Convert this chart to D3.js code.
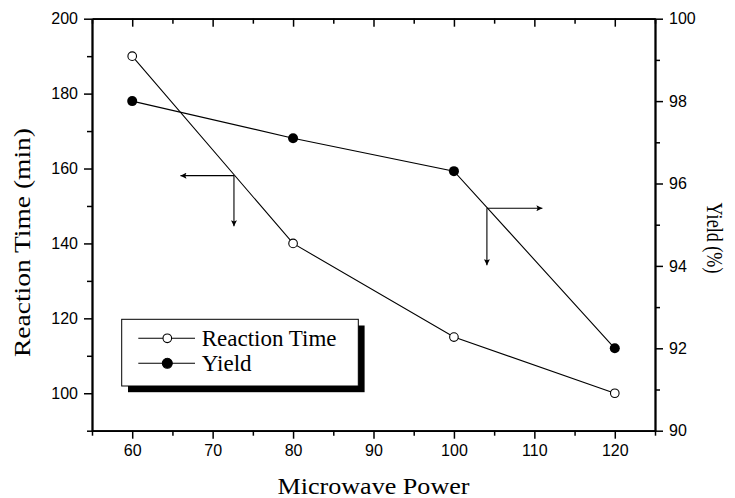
<!DOCTYPE html>
<html>
<head>
<meta charset="utf-8">
<script src="https://cdn.jsdelivr.net/npm/d3@7"></script>
<style>
  body { margin: 0; background: #fff; }
  svg { display: block; }
  .tick text { font-family: "Liberation Sans", Arial, sans-serif; font-size: 16px; fill: #000; }
  .title { font-family: "Liberation Serif", "Times New Roman", serif; font-size: 23px; fill: #000; }
</style>
</head>
<body>
<svg width="735" height="498"></svg>
<script>
// data
var power = [60, 80, 100, 120];
var reactionTime = [190, 140, 115, 100];
var yieldPct = [98.0, 97.1, 96.3, 92.0];

var xTicks = [60, 70, 80, 90, 100, 110, 120];
var xMinor = [55, 65, 75, 85, 95, 105, 115, 125];
var leftTicks = [100, 120, 140, 160, 180, 200];
var leftMinor = [90, 110, 130, 150, 170, 190];
var rightTicks = [90, 92, 94, 96, 98, 100];
var rightMinor = [91, 93, 95, 97, 99];

// arrow annotations: [corner x, corner y, tip x, tip y] in data units (left scale)
var arrowLeft = [72.65, 158.1, 66.0, 144.6];
var arrowRight = [104.1, 149.4, 111.0, 134.2];

var plotL = 92, plotR = 655, plotT = 18.7, plotB = 430.7;
var svg = d3.select('svg');

var x = d3.scaleLinear().domain([55, 125]).range([plotL, plotR]);
var yL = d3.scaleLinear().domain([90, 200]).range([plotB, plotT]);
var yR = d3.scaleLinear().domain([90, 100]).range([plotB, plotT]);

// arrowhead marker
svg.append("defs").append("marker")
    .attr("id", "arr")
    .attr("viewBox", "0 0 10 10")
    .attr("refX", 10).attr("refY", 5)
    .attr("markerWidth", 9).attr("markerHeight", 6)
    .attr("markerUnits", "userSpaceOnUse")
    .attr("orient", "auto")
    .append("path")
    .attr("d", "M0,0 L10,5 L0,10 L2,5 Z")
    .attr("fill", "#000");

function drawAxis(axisFn, scale, major, minor, transform, majorSize, minorSize, showLabels, pad) {
    var g = svg.append("g").attr("transform", transform);
    g.call(axisFn(scale).tickValues(minor).tickSizeInner(minorSize).tickSizeOuter(0).tickFormat(""));
    var g2 = svg.append("g").attr("transform", transform);
    var ax = axisFn(scale).tickValues(major).tickSizeInner(majorSize).tickSizeOuter(0).tickPadding(pad);
    if (!showLabels) ax.tickFormat("");
    g2.call(ax);
    [g, g2].forEach(function (a) {
        a.select(".domain").attr("stroke", "#000").attr("stroke-width", 1.8);
        a.selectAll(".tick line").attr("stroke", "#000").attr("stroke-width", 1.5);
    });
    return g2;
}

drawAxis(d3.axisBottom, x, xTicks, xMinor, "translate(0," + plotB + ")", 8, 5, true, 6);
drawAxis(d3.axisTop, x, xTicks, xMinor, "translate(0," + plotT + ")", -8, -5, false, 0);
drawAxis(d3.axisLeft, yL, leftTicks, leftMinor, "translate(" + plotL + ",0)", 8, 5, true, 6);
drawAxis(d3.axisRight, yR, rightTicks, rightMinor, "translate(" + plotR + ",0)", 8, 5, true, 6);

// lines
var lineRT = d3.line().x(function (d, i) { return x(power[i]); }).y(function (d) { return yL(d); });
var lineY = d3.line().x(function (d, i) { return x(power[i]); }).y(function (d) { return yR(d); });

svg.append("path").attr("d", lineRT(reactionTime))
    .attr("fill", "none").attr("stroke", "#000").attr("stroke-width", 1.1);
svg.append("path").attr("d", lineY(yieldPct))
    .attr("fill", "none").attr("stroke", "#000").attr("stroke-width", 1.1);

svg.selectAll(".rt").data(reactionTime).enter().append("circle")
    .attr("cx", function (d, i) { return x(power[i]); })
    .attr("cy", function (d) { return yL(d); })
    .attr("r", 4.3)
    .attr("fill", "#fff").attr("stroke", "#000").attr("stroke-width", 1.1);
svg.selectAll(".yd").data(yieldPct).enter().append("circle")
    .attr("cx", function (d, i) { return x(power[i]); })
    .attr("cy", function (d) { return yR(d); })
    .attr("r", 5)
    .attr("fill", "#000");

// arrows
[arrowLeft, arrowRight].forEach(function (a) {
    var cx = x(a[0]), cy = yL(a[1]);
    svg.append("line").attr("x1", cx).attr("y1", cy).attr("x2", x(a[2])).attr("y2", cy)
        .attr("stroke", "#000").attr("stroke-width", 1.1).attr("marker-end", "url(#arr)");
    svg.append("line").attr("x1", cx).attr("y1", cy).attr("x2", cx).attr("y2", yL(a[3]))
        .attr("stroke", "#000").attr("stroke-width", 1.1).attr("marker-end", "url(#arr)");
});

// legend
var lg = svg.append("g");
lg.append("rect").attr("x", 128).attr("y", 325.5).attr("width", 236.6).attr("height", 66.7).attr("fill", "#000");
lg.append("rect").attr("x", 121.7).attr("y", 319.3).attr("width", 236.6).attr("height", 66.7)
    .attr("fill", "#fff").attr("stroke", "#000").attr("stroke-width", 1);
var legendItems = [
    { name: "Reaction Time", filled: false, y: 338.3 },
    { name: "Yield", filled: true, y: 363.3 }
];
legendItems.forEach(function (it) {
    lg.append("line").attr("x1", 138.3).attr("x2", 195).attr("y1", it.y).attr("y2", it.y)
        .attr("stroke", "#000").attr("stroke-width", 1.1);
    lg.append("circle").attr("cx", 167.3).attr("cy", it.y).attr("r", it.filled ? 5 : 4.3)
        .attr("fill", it.filled ? "#000" : "#fff").attr("stroke", "#000").attr("stroke-width", 1.1);
    lg.append("text").attr("class", "title").attr("x", 201.7).attr("y", it.y + 7.5).text(it.name);
});

// axis titles
svg.append("text").attr("class", "title")
    .attr("x", (plotL + plotR) / 2).attr("y", 494)
    .attr("text-anchor", "middle")
    .attr("textLength", 192).attr("lengthAdjust", "spacingAndGlyphs")
    .text("Microwave Power");
svg.append("text").attr("class", "title")
    .attr("transform", "translate(30,242.5) rotate(-90)")
    .attr("text-anchor", "middle")
    .attr("textLength", 229).attr("lengthAdjust", "spacingAndGlyphs")
    .text("Reaction Time (min)");
svg.append("text").attr("class", "title")
    .attr("transform", "translate(707,238) rotate(90)")
    .attr("text-anchor", "middle")
    .attr("textLength", 71).attr("lengthAdjust", "spacingAndGlyphs")
    .text("Yield (%)");
</script>
</body>
</html>
